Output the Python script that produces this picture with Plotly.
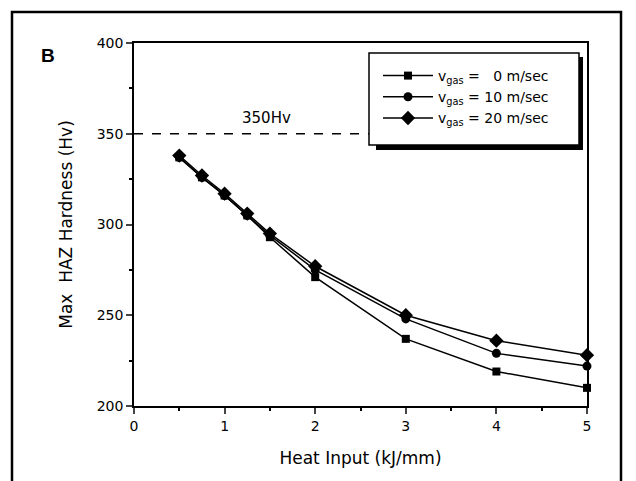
import plotly.graph_objects as go

heat_input = [0.5, 0.75, 1.0, 1.25, 1.5, 2.0, 3.0, 4.0, 5.0]
hv_0 = [337, 326, 316, 305, 293, 271, 237, 219, 210]
hv_10 = [337, 326, 316, 305, 294, 275, 248, 229, 222]
hv_20 = [338, 327, 317, 306, 295, 277, 250, 236, 228]
series_names = ["v<sub>gas</sub> =   0 m/sec", "v<sub>gas</sub> = 10 m/sec", "v<sub>gas</sub> = 20 m/sec"]
x_ticks = [0, 1, 2, 3, 4, 5]
y_ticks = [200, 250, 300, 350, 400]
limit_hv = 350

font = "DejaVu Sans, Liberation Sans, sans-serif"
fig = go.Figure()
for ys, name, sym, sz in [(hv_0, series_names[0], "square", 8),
                          (hv_10, series_names[1], "circle", 9),
                          (hv_20, series_names[2], "diamond", 11)]:
    fig.add_trace(go.Scatter(x=heat_input, y=ys, name=name, mode="lines+markers",
                             line=dict(color="black", width=1.5),
                             marker=dict(symbol=sym, size=sz, color="black"),
                             cliponaxis=False))

fig.add_trace(go.Scatter(x=[0, 2.62], y=[limit_hv, limit_hv], mode="lines",
                         line=dict(color="black", width=1.5, dash="dash"),
                         showlegend=False, hoverinfo="skip"))

fig.add_annotation(x=1.17, y=limit_hv, yshift=5, text="350Hv", showarrow=False,
                   xanchor="left", yanchor="bottom", font=dict(size=15, color="black", family=font))

# panel label
fig.add_annotation(xref="paper", yref="paper", x=-0.21, y=1.0, text="<b>B</b>", showarrow=False,
                   xanchor="left", yanchor="top", font=dict(size=19, color="black",
                                                            family="Liberation Sans, Arial, sans-serif"))

# legend shadow
fig.add_shape(type="rect", xref="paper", yref="paper",
              x0=(376 - 134) / 453, x1=(583 - 134) / 453,
              y0=(406 - 150) / 363, y1=(406 - 57) / 363,
              fillcolor="black", line=dict(width=0), layer="above")
fig.add_shape(type="rect", xref="paper", yref="paper",
              x0=(369 - 134) / 453, x1=(579 - 134) / 453,
              y0=(406 - 145) / 363, y1=(406 - 53) / 363,
              fillcolor="white", line=dict(color="black", width=1.5), layer="above")

# outer border
fig.add_shape(type="rect", xref="paper", yref="paper",
              x0=(12 - 134) / 453, x1=(621 - 134) / 453,
              y0=-0.3, y1=(406 - 12) / 363,
              line=dict(color="black", width=2.5), fillcolor="rgba(0,0,0,0)")

fig.update_layout(
    width=636, height=481,
    margin=dict(l=134, r=49, t=43, b=75),
    paper_bgcolor="white", plot_bgcolor="white",
    font=dict(family=font, size=14, color="black"),
    showlegend=True,
    legend=dict(x=(378 - 134) / 453, y=(406 - 60) / 363, xanchor="left", yanchor="top",
                bgcolor="rgba(0,0,0,0)", borderwidth=0, font=dict(size=14),
                itemwidth=50, tracegroupgap=0),
    xaxis=dict(range=[0, 5], tickvals=x_ticks, ticks="outside", ticklen=6, tickwidth=1.5,
               showline=True, linecolor="black", linewidth=1.5, mirror=True, showgrid=False,
               zeroline=False, minor=dict(dtick=0.5, ticks="outside", ticklen=3, tickwidth=1.5, tickcolor="black"),
               title=dict(text="Heat Input (kJ/mm)", font=dict(size=17), standoff=20)),
    yaxis=dict(range=[200, 400], tickvals=y_ticks, ticks="outside", ticklen=6, tickwidth=1.5,
               showline=True, linecolor="black", linewidth=1.5, mirror=True, showgrid=False,
               zeroline=False, minor=dict(dtick=25, ticks="outside", ticklen=3, tickwidth=1.5, tickcolor="black"),
               title=dict(text="Max  HAZ Hardness (Hv)", font=dict(size=17), standoff=20)),
)

fig.write_html("out.html")
